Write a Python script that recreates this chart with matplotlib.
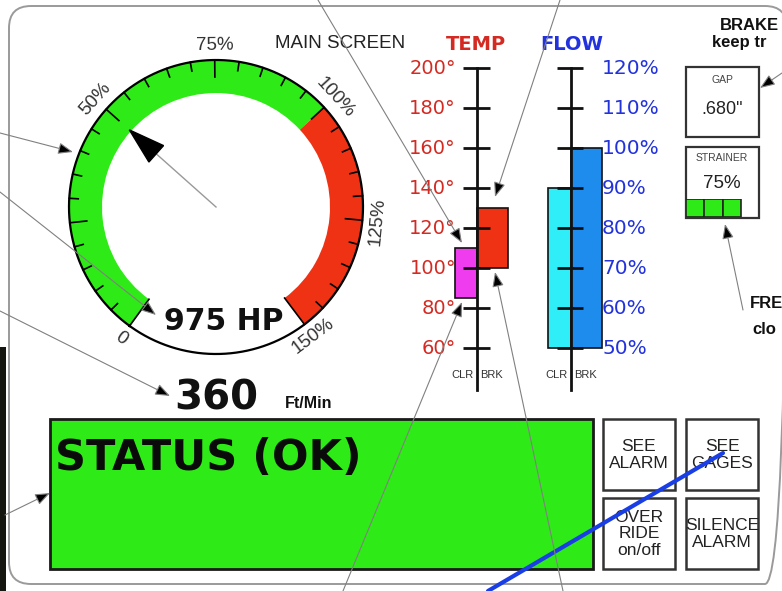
import numpy as np
import matplotlib
matplotlib.use("Agg")
import matplotlib.pyplot as plt
from matplotlib.patches import FancyBboxPatch, Rectangle

# ---------------- data ----------------
gauge_label_values = [0, 50, 75, 100, 125, 150]
gauge_labels = ["0", "50%", "75%", "100%", "125%", "150%"]
gauge_tick_values = list(range(0, 151, 5))
gauge_green_range = [0, 100]
gauge_red_range = [100, 150]
gauge_needle_value = 50
hp_text = "975 HP"
speed_value = "360"
speed_unit = "Ft/Min"

temp_ticks = [60, 80, 100, 120, 140, 160, 180, 200]
temp_tick_labels = ["60°", "80°", "100°", "120°", "140°", "160°", "180°", "200°"]
temp_categories = ["CLR", "BRK"]
temp_low = [85, 100]
temp_high = [110, 130]

flow_ticks = [50, 60, 70, 80, 90, 100, 110, 120]
flow_tick_labels = ["50%", "60%", "70%", "80%", "90%", "100%", "110%", "120%"]
flow_categories = ["CLR", "BRK"]
flow_base = 50
flow_values = [90, 100]

gap_value = '.680"'
strainer_value = 75
strainer_segments = 4
status_text = "STATUS (OK)"
button_labels = ["SEE\nALARM", "SEE\nGAGES", "OVER\nRIDE\non/off", "SILENCE\nALARM"]

# ---------------- style ----------------
W, H = 782, 591
GREEN = "#2eea16"
RED = "#f03214"
MAGENTA = "#ee3cee"
CYAN = "#30eef8"
BLUE = "#1e8cec"
TRED = "#d42a22"
TBLUE = "#2233dd"
SANS = ["Liberation Sans", "DejaVu Sans"]
BOLD = ["DejaVu Sans"]

fig = plt.figure(figsize=(W / 100, H / 100), dpi=100)
fig.patch.set_facecolor("white")


def px_axes(x0, y0, x1, y1, **kw):
    return fig.add_axes([x0 / W, 1 - y1 / H, (x1 - x0) / W, (y1 - y0) / H], **kw)


ax = px_axes(0, 0, W, H)
ax.set_xlim(0, W)
ax.set_ylim(H, 0)
ax.axis("off")

# outer frame + dark strip
ax.add_patch(FancyBboxPatch((9, 6), 778, 578, boxstyle="round,pad=0,rounding_size=22",
                            fc="none", ec="#9a9a9a", lw=1.4))
ax.add_patch(Rectangle((0, 347), 6, 250, fc="#161610", ec="none"))

# ---------------- gauge (polar) ----------------
CX, CY, HALF = 216, 207, 172
R_OUT, BAND = 147, 33
START, SPAN = 234.0, 287.0
axg = px_axes(CX - HALF, CY - HALF, CX + HALF, CY + HALF, projection="polar")
axg.set_theta_direction(-1)
axg.set_theta_offset(np.radians(START))
axg.set_ylim(0, HALF)
axg.axis("off")
axg.patch.set_alpha(0)


def th(v):
    return np.radians(v * SPAN / 150.0)


for rng, col in [(gauge_green_range, GREEN), (gauge_red_range, RED)]:
    axg.bar(th(rng[0]), BAND, width=th(rng[1]) - th(rng[0]), bottom=R_OUT - BAND,
            align="edge", color=col, edgecolor="none", zorder=1)
tt = np.linspace(0, 2 * np.pi, 500)
axg.plot(tt, np.full_like(tt, R_OUT), color="k", lw=1.6, zorder=3)
for v in gauge_tick_values:
    if v in (0, 150):
        ln = BAND
    elif v % 25 == 0:
        ln = 17
    else:
        ln = 9
    axg.plot([th(v), th(v)], [R_OUT - ln, R_OUT], color="k", lw=1.2, zorder=3)
for v, lab in zip(gauge_label_values, gauge_labels):
    a = START - v * SPAN / 150.0
    rot = a - 90 if np.sin(np.radians(a)) >= 0 else a + 90
    axg.text(th(v), R_OUT + 15, lab, ha="center", va="center", rotation=rot,
             rotation_mode="anchor", fontsize=13.5, color="#333333", family=SANS)
# needle
tn = th(gauge_needle_value)
axg.plot([tn, tn], [0, 85], color="#999999", lw=1.0, zorder=4)
tip, base, hw = 116, 80, 11
off = np.arctan2(hw, base)
axg.fill([tn, tn - off, tn + off], [tip, np.hypot(base, hw), np.hypot(base, hw)],
         color="k", zorder=5)

ax.text(224, 322, hp_text, ha="center", va="center", fontsize=21.5, fontweight="bold",
        family=BOLD, color="#111")

# ---------------- TEMP gauge ----------------
ax.text(476, 45, "TEMP", ha="center", va="center", fontsize=14, fontweight="bold",
        family=BOLD, color=TRED)
axt = px_axes(400, 60, 530, 395)
axt.set_xlim(400 - 477, 530 - 477)
axt.set_ylim(200 - (395 - 68) / 2, 200 + (68 - 60) / 2)
axt.axis("off")
axt.patch.set_alpha(0)
axt.bar([0, 0], np.subtract(temp_high, temp_low), width=[-22, 31], bottom=temp_low,
        align="edge", color=[MAGENTA, RED], edgecolor="#111", lw=1.2, zorder=1)
ybot = axt.get_ylim()[0] + 2.5
axt.plot([0, 0], [ybot, max(temp_ticks)], color="#111", lw=2, zorder=3)
axt.hlines(temp_ticks, -14, 13, colors="#111", lw=2, zorder=3)
for t, lab in zip(temp_ticks, temp_tick_labels):
    axt.text(-21, t, lab, ha="right", va="center", fontsize=14, color=TRED, family=BOLD)
ylab = axt.get_ylim()[0] + 10
axt.text(-3, ylab, temp_categories[0], ha="right", va="center", fontsize=8, color="#333", family=SANS)
axt.text(3, ylab, temp_categories[1], ha="left", va="center", fontsize=8, color="#333", family=SANS)

# ---------------- FLOW gauge ----------------
ax.text(572, 45, "FLOW", ha="center", va="center", fontsize=14, fontweight="bold",
        family=BOLD, color=TBLUE)
axf = px_axes(520, 60, 690, 395)
axf.set_xlim(520 - 571, 690 - 571)
axf.set_ylim(120 - (395 - 68) / 4, 120 + (68 - 60) / 4)
axf.axis("off")
axf.patch.set_alpha(0)
axf.bar([0, 0], np.subtract(flow_values, flow_base), width=[-23, 31], bottom=flow_base,
        align="edge", color=[CYAN, BLUE], edgecolor="#111", lw=1.2, zorder=1)
ybot = axf.get_ylim()[0] + 1.25
axf.plot([0, 0], [ybot, max(flow_ticks)], color="#111", lw=2, zorder=3)
axf.hlines(flow_ticks, -14, 12, colors="#111", lw=2, zorder=3)
for t, lab in zip(flow_ticks, flow_tick_labels):
    axf.text(31, t, lab, ha="left", va="center", fontsize=14.5, color=TBLUE, family=BOLD)
ylab = axf.get_ylim()[0] + 5
axf.text(-3, ylab, flow_categories[0], ha="right", va="center", fontsize=8, color="#333", family=SANS)
axf.text(3, ylab, flow_categories[1], ha="left", va="center", fontsize=8, color="#333", family=SANS)

ax.text(340, 44, "MAIN SCREEN", ha="center", va="center", fontsize=13.5, color="#222", family=SANS)

# ---------------- right panel ----------------
ax.text(720, 25, "BRAKE", ha="left", va="center", fontsize=12, fontweight="bold", family=SANS, color="#111")
ax.text(712, 43, "keep tr", ha="left", va="center", fontsize=12, fontweight="bold", family=SANS, color="#111")
ax.text(750, 303, "FRE", ha="left", va="center", fontsize=12, fontweight="bold", family=SANS, color="#111")
ax.text(752, 329, "clo", ha="left", va="center", fontsize=12, fontweight="bold", family=SANS, color="#111")

ax.add_patch(Rectangle((686, 67), 73, 70, fc="white", ec="#333", lw=1.6))
ax.text(722, 80, "GAP", ha="center", va="center", fontsize=7.5, color="#444", family=SANS)
ax.text(722, 110, gap_value, ha="center", va="center", fontsize=13, color="#222", family=SANS)

ax.add_patch(Rectangle((686, 147), 73, 71, fc="white", ec="#333", lw=1.6))
ax.text(722, 158, "STRAINER", ha="center", va="center", fontsize=7.5, color="#444", family=SANS)
ax.text(722, 184, f"{strainer_value}%", ha="center", va="center", fontsize=13.5, color="#222", family=SANS)
axs = px_axes(686, 199, 759, 217)
axs.set_xlim(0, 100)
axs.set_ylim(0, 1)
axs.axis("off")
axs.patch.set_alpha(0)
seg = 100 / strainer_segments
n_fill = int(round(strainer_value / seg))
axs.bar([i * seg for i in range(n_fill)], 1, width=seg, align="edge", color=GREEN,
        edgecolor="#222", lw=1.2)

# ---------------- bottom ----------------
ax.text(216, 398, speed_value, ha="center", va="center", fontsize=29, fontweight="bold",
        family=BOLD, color="#111")
ax.text(285, 404, speed_unit, ha="left", va="center", fontsize=11.5, fontweight="bold",
        family=SANS, color="#111")

ax.add_patch(Rectangle((50, 419), 543, 150, fc=GREEN, ec="#1a1a1a", lw=2))
ax.text(55, 458, status_text, ha="left", va="center", fontsize=31, fontweight="bold",
        family=BOLD, color="#0a0a0a")

bx = [603, 686, 603, 686]
by = [419, 419, 498, 498]
for x, y, lab in zip(bx, by, button_labels):
    ax.add_patch(Rectangle((x, y), 72, 71, fc="white", ec="#333", lw=1.8))
    ax.text(x + 36, y + 36, lab, ha="center", va="center", fontsize=12.5, color="#222",
            family=SANS, linespacing=1.15)

# ---------------- callout lines (overlay) ----------------
axo = px_axes(0, 0, W, H)
axo.set_zorder(20)
axo.set_xlim(0, W)
axo.set_ylim(H, 0)
axo.axis("off")
axo.patch.set_alpha(0)
callouts = [
    ((0, 133), (73, 152)),
    ((0, 192), (156, 315)),
    ((0, 311), (170, 396)),
    ((5, 515), (50, 493)),
    ((318, 0), (462, 243)),
    ((560, 0), (495, 197)),
    ((343, 591), (462, 302)),
    ((563, 591), (495, 272)),
    ((782, 73), (760, 88)),
    ((743, 310), (725, 224)),
]
for s, e in callouts:
    axo.annotate("", xy=e, xytext=s,
                 arrowprops=dict(arrowstyle="-|>,head_length=0.9,head_width=0.35",
                                 ec="#808080", fc="k", lw=0.8, shrinkA=0, shrinkB=0))
axo.plot([488, 723], [591, 453], color="#1a3ee6", lw=3, solid_capstyle="round")

fig.savefig("out.png", dpi=100)
